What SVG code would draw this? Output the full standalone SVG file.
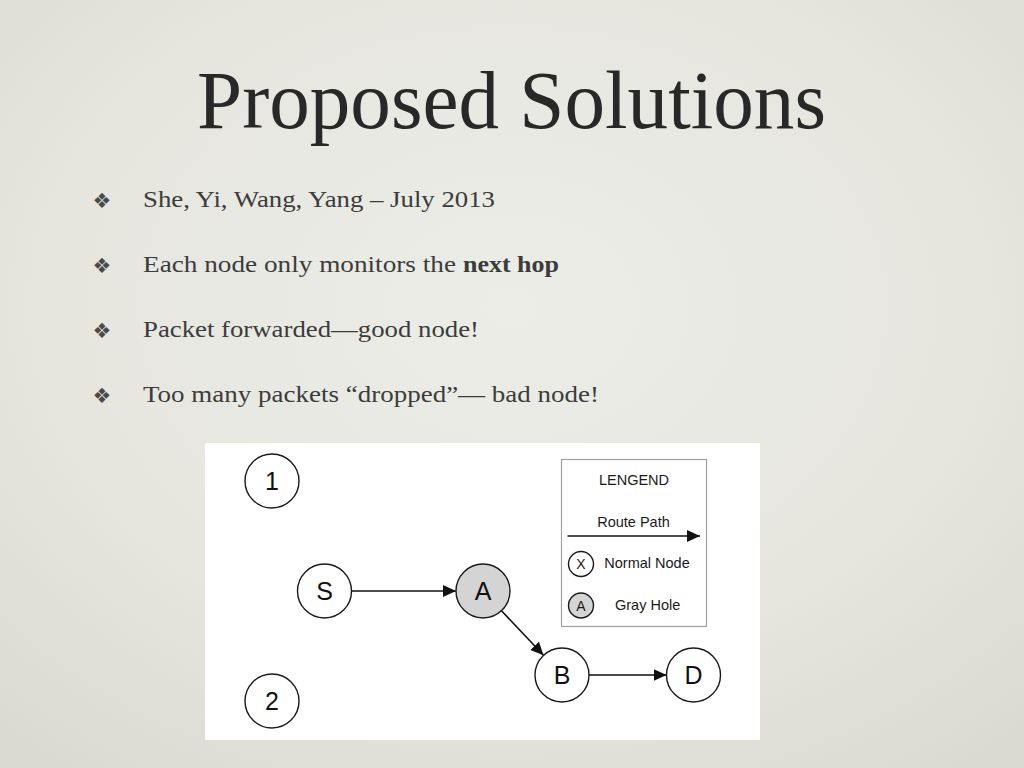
<svg xmlns="http://www.w3.org/2000/svg" width="1024" height="768" viewBox="0 0 1024 768">
<defs>
<radialGradient id="bg" cx="50%" cy="40%" r="75%">
<stop offset="0" stop-color="#ededE8"/>
<stop offset="0.6" stop-color="#e6e6df"/>
<stop offset="1" stop-color="#dadad2"/>
</radialGradient>
<marker id="arr" markerUnits="userSpaceOnUse" markerWidth="14" markerHeight="12" refX="13" refY="6" orient="auto">
<path d="M0,0 L13,6 L0,12 Z" fill="#111"/>
</marker>
</defs>
<style>
.title{font-family:"Liberation Serif","Times New Roman",serif;font-size:82px;fill:#282828}
.bt{font-family:"Liberation Serif","Times New Roman",serif;font-size:24px;fill:#3c3c3c}
.bul{font-family:"DejaVu Sans",sans-serif;font-size:21px;fill:#4a4a4a}
.node{fill:#fff;stroke:#1a1a1a;stroke-width:1.4}
.gray{fill:#d4d4d4}
.nl{font-family:"Liberation Sans",Arial,sans-serif;font-size:25px;fill:#111;text-anchor:middle}
.lg{font-family:"Liberation Sans",Arial,sans-serif;font-size:14.5px;fill:#1a1a1a}
.ls{font-family:"Liberation Sans",Arial,sans-serif;font-size:14px;fill:#1a1a1a;text-anchor:middle}
.edge{stroke:#111;stroke-width:1.6;fill:none}
</style>
<rect x="0" y="0" width="1024" height="768" fill="url(#bg)"/>
<text class="title" x="511.5" y="128" text-anchor="middle" textLength="629" lengthAdjust="spacingAndGlyphs">Proposed Solutions</text>
<g id="bullets">
<text class="bul" x="102" y="207.5" text-anchor="middle">❖</text>
<text class="bt" x="143" y="207" textLength="352" lengthAdjust="spacingAndGlyphs">She, Yi, Wang, Yang – July 2013</text>
<text class="bul" x="102" y="272.5" text-anchor="middle">❖</text>
<text class="bt" x="143" y="272" textLength="313" lengthAdjust="spacingAndGlyphs">Each node only monitors the</text>
<text class="bt" x="463" y="272" font-weight="bold" textLength="96" lengthAdjust="spacingAndGlyphs">next hop</text>
<text class="bul" x="102" y="337.5" text-anchor="middle">❖</text>
<text class="bt" x="143" y="337" textLength="336" lengthAdjust="spacingAndGlyphs">Packet forwarded—good node!</text>
<text class="bul" x="102" y="402.5" text-anchor="middle">❖</text>
<text class="bt" x="143" y="402" textLength="456" lengthAdjust="spacingAndGlyphs">Too many packets “dropped”— bad node!</text>
</g>
<rect x="205" y="443" width="555" height="297" fill="#ffffff"/>
<g id="connectors">
<line class="edge" x1="351" y1="591" x2="456" y2="591" marker-end="url(#arr)"/>
<line class="edge" x1="501.5" y1="610.7" x2="543.5" y2="655.3" marker-end="url(#arr)"/>
<line class="edge" x1="589" y1="675" x2="666.5" y2="675" marker-end="url(#arr)"/>
</g>
<g id="node-1"><circle class="node" cx="272" cy="481" r="27"/><text class="nl" x="272" y="490">1</text></g>
<g id="node-2"><circle class="node" cx="272" cy="701" r="27"/><text class="nl" x="272" y="710">2</text></g>
<g id="node-S"><circle class="node" cx="324.5" cy="591" r="27"/><text class="nl" x="324.5" y="600">S</text></g>
<g id="node-A"><circle class="node gray" cx="483" cy="591" r="27"/><text class="nl" x="483" y="600">A</text></g>
<g id="node-B"><circle class="node" cx="562" cy="675" r="27"/><text class="nl" x="562" y="684">B</text></g>
<g id="node-D"><circle class="node" cx="693.5" cy="675" r="27"/><text class="nl" x="693.5" y="684">D</text></g>
<g id="legend">
<rect x="561.5" y="459.5" width="145" height="167" fill="#fff" stroke="#a0a0a0" stroke-width="1.2"/>
<text class="lg" x="634" y="484.5" text-anchor="middle">LENGEND</text>
<text class="lg" x="633.5" y="526.5" text-anchor="middle">Route Path</text>
<line class="edge" x1="567.5" y1="536" x2="700" y2="536" marker-end="url(#arr)"/>
<circle class="node" cx="581" cy="564" r="12.5" stroke-width="1.2"/>
<text class="ls" x="581" y="569">X</text>
<text class="lg" x="604.3" y="568.3">Normal Node</text>
<circle class="node gray" cx="581" cy="605.5" r="12.5" stroke-width="1.2"/>
<text class="ls" x="581" y="610.5">A</text>
<text class="lg" x="615" y="610">Gray Hole</text>
</g>
</svg>
